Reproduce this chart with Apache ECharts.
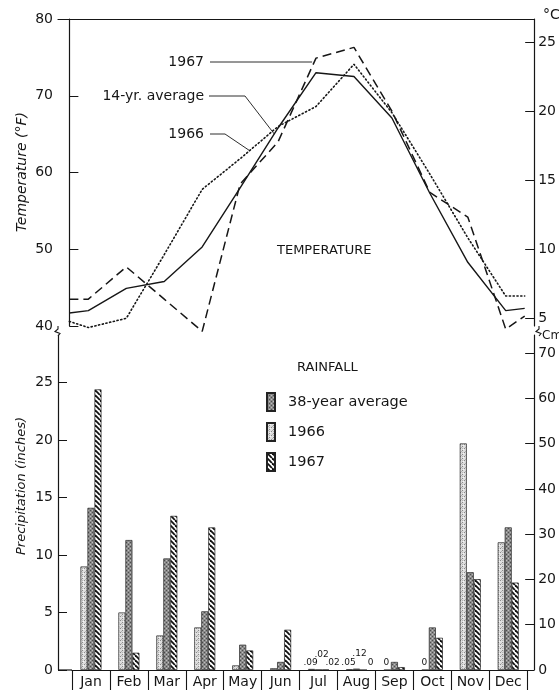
<!DOCTYPE html>
<html><head><meta charset="utf-8">
<script src="https://cdn.jsdelivr.net/npm/echarts@6/dist/echarts.min.js"></script>
<style>html,body{margin:0;padding:0;background:#fff}#c{width:559px;height:692px}</style>
</head><body><div id="c"></div>
<script>
// ---- data ----
const months = ['Jan','Feb','Mar','Apr','May','Jun','Jul','Aug','Sep','Oct','Nov','Dec'];
// month position (0 = start of Jan, 12 = end of Dec); end points are the curve stubs
const lineX = [0, 0.5, 1.5, 2.5, 3.5, 4.5, 5.5, 6.5, 7.5, 8.5, 9.5, 10.5, 11.5, 12];
const tempAvg14 = [41.7, 42.0, 44.9, 45.8, 50.3, 58.0, 65.8, 73.0, 72.5, 67.1, 57.3, 48.3, 42.0, 42.3];
const temp1967  = [43.5, 43.5, 47.7, 43.5, 39.3, 58.5, 64.0, 74.9, 76.3, 68.0, 57.4, 54.2, 39.6, 41.3];
const temp1966  = [40.6, 39.8, 41.0, 49.3, 57.8, 61.8, 66.0, 68.6, 74.1, 67.8, 59.8, 51.5, 43.9, 43.9];

const rain1966  = [9.0, 5.0, 3.0, 3.7, 0.4, 0.15, 0.09, 0.05, 0, 0, 19.7, 11.1];
const rainAvg38 = [14.1, 11.3, 9.7, 5.1, 2.2, 0.7, 0.02, 0.12, 0.7, 3.7, 8.5, 12.4];
const rain1967  = [24.4, 1.5, 13.4, 12.4, 1.7, 3.5, 0.02, 0, 0.25, 2.8, 7.9, 7.6];
const label1966 = ['', '', '', '', '', '', '.09', '.05', '0', '0', '', ''];
const labelAvg  = ['', '', '', '', '', '', '.02', '.12', '', '', '', ''];
const label1967 = ['', '', '', '', '', '', '.02', '0', '', '', '', ''];

const fTicks  = [40, 50, 60, 70, 80];
const cTicks  = [5, 10, 15, 20, 25];
const inTicks = [0, 5, 10, 15, 20, 25];
const cmTicks = [0, 10, 20, 30, 40, 50, 60, 70];

// ---- styles ----
const FF = 'DejaVu Sans';
const INK = '#161616';
function pattern(kind) {
  const c = document.createElement('canvas');
  const s = kind === 'hatch' ? 5 : 4;
  c.width = s; c.height = s;
  const g = c.getContext('2d');
  if (kind === 'hatch') {
    g.fillStyle = '#fff'; g.fillRect(0, 0, s, s);
    g.strokeStyle = '#111'; g.lineWidth = 1.8;
    for (const k of [-s, 0, s]) { g.beginPath(); g.moveTo(k, 0); g.lineTo(k + s, s); g.stroke(); }
  } else if (kind === 'light') {
    g.fillStyle = '#dedede'; g.fillRect(0, 0, s, s);
    g.fillStyle = '#8a8a8a'; g.fillRect(0, 0, 1, 1); g.fillRect(2, 2, 1, 1);
    g.fillStyle = '#b4b4b4'; g.fillRect(2, 0, 1, 1); g.fillRect(1, 3, 1, 1);
    g.fillStyle = '#f6f6f6'; g.fillRect(3, 1, 1, 1);
  } else {
    g.fillStyle = '#8a8a8a'; g.fillRect(0, 0, s, s);
    g.fillStyle = '#4e4e4e'; g.fillRect(0, 0, 1, 1); g.fillRect(2, 2, 1, 1);
    g.fillStyle = '#bdbdbd'; g.fillRect(2, 0, 1, 1); g.fillRect(0, 2, 1, 1);
  }
  return { image: c, repeat: 'repeat' };
}

const cMin = (40 - 32) / 1.8, cMax = (80 - 32) / 1.8;
const inMax = 29.13, cmMax = inMax * 2.54;

const axisLineStyle = { color: INK, width: 1.2 };
const labelStyle = { color: INK, fontFamily: FF, fontSize: 14 };

const chart = echarts.init(document.getElementById('c'));

function barLabel(arr, dist, off) {
  return { show: true, position: 'top', distance: dist, offset: off, fontSize: 9, fontFamily: FF, color: INK,
           formatter: p => arr[p.dataIndex] };
}

const option = {
  backgroundColor: '#fff',
  animation: false,
  grid: [
    { left: 58, right: 20, top: 19, bottom: 366 },
    { left: 72, right: 27, top: 335, bottom: 22 }
  ],
  xAxis: [
    { gridIndex: 0, type: 'value', min: -0.3, max: 12.25, position: 'top',
      axisLine: { show: true, lineStyle: axisLineStyle }, axisTick: { show: false },
      axisLabel: { show: false }, splitLine: { show: false } },
    { gridIndex: 1, type: 'category', data: months, boundaryGap: true,
      axisLine: { show: true, lineStyle: axisLineStyle },
      axisTick: { show: true, length: 20, lineStyle: { color: INK, width: 1.1 } },
      axisLabel: Object.assign({ margin: 5, interval: 0 }, labelStyle),
      splitLine: { show: false } }
  ],
  yAxis: [
    { gridIndex: 0, type: 'value', min: 40, max: 80, interval: 10, position: 'left',
      axisLine: { show: true, lineStyle: axisLineStyle },
      axisTick: { show: true, inside: true, length: 9, lineStyle: { color: INK } },
      axisLabel: Object.assign({ margin: 5 }, labelStyle), splitLine: { show: false } },
    { gridIndex: 0, type: 'value', min: cMin, max: cMax, position: 'right',
      axisLine: { show: true, lineStyle: axisLineStyle },
      axisTick: { show: true, inside: true, length: 9, customValues: cTicks, lineStyle: { color: INK } },
      axisLabel: Object.assign({ margin: 4, customValues: cTicks }, labelStyle), splitLine: { show: false } },
    { gridIndex: 1, type: 'value', min: 0, max: inMax, position: 'left', offset: 14,
      axisLine: { show: true, lineStyle: axisLineStyle },
      axisTick: { show: true, inside: true, length: 9, customValues: inTicks, lineStyle: { color: INK } },
      axisLabel: Object.assign({ margin: 5, customValues: inTicks }, labelStyle), splitLine: { show: false } },
    { gridIndex: 1, type: 'value', min: 0, max: cmMax, position: 'right', offset: 7,
      axisLine: { show: true, lineStyle: axisLineStyle },
      axisTick: { show: true, inside: true, length: 9, customValues: cmTicks, lineStyle: { color: INK } },
      axisLabel: Object.assign({ margin: 4, customValues: cmTicks }, labelStyle), splitLine: { show: false } }
  ],
  legend: {
    data: ['38-year average', '1966', '1967'],
    orient: 'vertical', left: 261, top: 387, itemWidth: 8, itemHeight: 18, itemGap: 10,
    icon: 'rect', selectedMode: false,
    textStyle: { fontFamily: FF, fontSize: 14.5, color: INK, padding: [0, 0, 0, 8] }
  },
  series: [
    { name: '14-yr. average', type: 'line', xAxisIndex: 0, yAxisIndex: 0, clip: false,
      data: lineX.map((x, i) => [x, tempAvg14[i]]), symbol: 'none',
      lineStyle: { color: INK, width: 1.4, type: 'solid' } },
    { name: 'T1967', type: 'line', xAxisIndex: 0, yAxisIndex: 0, clip: false,
      data: lineX.map((x, i) => [x, temp1967[i]]), symbol: 'none',
      lineStyle: { color: INK, width: 1.5, type: [9, 5] } },
    { name: 'T1966', type: 'line', xAxisIndex: 0, yAxisIndex: 0, clip: false,
      data: lineX.map((x, i) => [x, temp1966[i]]), symbol: 'none',
      lineStyle: { color: INK, width: 1.6, type: [1.2, 2.6], cap: 'round' } },
    { name: '1966', type: 'bar', xAxisIndex: 1, yAxisIndex: 2, data: rain1966, barWidth: 7, barGap: '0%',
      itemStyle: { color: pattern('light'), borderColor: '#222', borderWidth: 0.7 },
      label: barLabel(label1966, 2, [-1, 0]) },
    { name: '38-year average', type: 'bar', xAxisIndex: 1, yAxisIndex: 2, data: rainAvg38, barWidth: 7, barGap: '0%',
      itemStyle: { color: pattern('dark'), borderColor: '#222', borderWidth: 0.7 },
      label: barLabel(labelAvg, 10, [3, 0]) },
    { name: '1967', type: 'bar', xAxisIndex: 1, yAxisIndex: 2, data: rain1967, barWidth: 7, barGap: '0%',
      itemStyle: { color: pattern('hatch'), borderColor: '#222', borderWidth: 0.7 },
      label: barLabel(label1967, 2, [7, 0]) }
  ]
};
chart.setOption(option);

// ---- annotations derived from the data ----
function interp(xs, ys, t) {
  for (let i = 0; i < xs.length - 1; i++) {
    if (t >= xs[i] && t <= xs[i + 1]) return ys[i] + (ys[i + 1] - ys[i]) * (t - xs[i]) / (xs[i + 1] - xs[i]);
  }
  return ys[ys.length - 1];
}
const px = (x, y) => chart.convertToPixel({ xAxisIndex: 0, yAxisIndex: 0 }, [x, y]);
const p67 = px(6.45, interp(lineX, temp1967, 6.45));
const pAvg = px(5.4, interp(lineX, tempAvg14, 5.4));
const p66 = px(4.75, interp(lineX, temp1966, 4.75));

const lineS = { stroke: INK, lineWidth: 0.9, fill: null };
const txt = (x, y, s, extra) => ({ type: 'text', x: x, y: y, silent: true,
  style: Object.assign({ text: s, fill: INK, font: '14px "' + FF + '"', textAlign: 'left', textVerticalAlign: 'middle' }, extra || {}) });

chart.setOption({
  graphic: [
    txt(204, 62, '1967', { textAlign: 'right' }),
    txt(204, 96, '14-yr. average', { textAlign: 'right' }),
    txt(204, 134, '1966', { textAlign: 'right' }),
    { type: 'polyline', silent: true, shape: { points: [[210, 62], [p67[0] - 2, 62]] }, style: lineS },
    { type: 'polyline', silent: true, shape: { points: [[209, 96], [245, 96], pAvg] }, style: lineS },
    { type: 'polyline', silent: true, shape: { points: [[210, 134], [225, 134], p66] }, style: lineS },
    txt(277, 251, 'TEMPERATURE', { font: '13px "' + FF + '"' }),
    txt(297, 368, 'RAINFALL', { font: '13px "' + FF + '"' }),
    txt(543, 15, '°C'),
    txt(542, 336, 'Cm', { font: '12px "' + FF + '"' }),
    { type: 'text', x: 22, y: 172, rotation: Math.PI / 2, silent: true,
      style: { text: 'Temperature (°F)', fill: INK, font: 'italic 14px "' + FF + '"', textAlign: 'center', textVerticalAlign: 'middle' } },
    { type: 'text', x: 22, y: 486, rotation: Math.PI / 2, silent: true,
      style: { text: 'Precipitation (inches)', fill: INK, font: 'italic 13px "' + FF + '"', textAlign: 'center', textVerticalAlign: 'middle' } },
    // axis breaks
    { type: 'polyline', silent: true, shape: { points: [[58, 326], [58, 329], [55, 331.5], [60, 333.5], [58, 336]] }, style: { stroke: INK, lineWidth: 1.1, fill: null } },
    { type: 'polyline', silent: true, shape: { points: [[539, 326], [539, 329], [536, 331.5], [541, 333.5], [539, 336]] }, style: { stroke: INK, lineWidth: 1.1, fill: null } },
    // baseline continues to the left axis
    { type: 'line', silent: true, shape: { x1: 58, y1: 670, x2: 72, y2: 670 }, style: { stroke: INK, lineWidth: 1.2 } }
  ]
});
</script>
</body></html>
